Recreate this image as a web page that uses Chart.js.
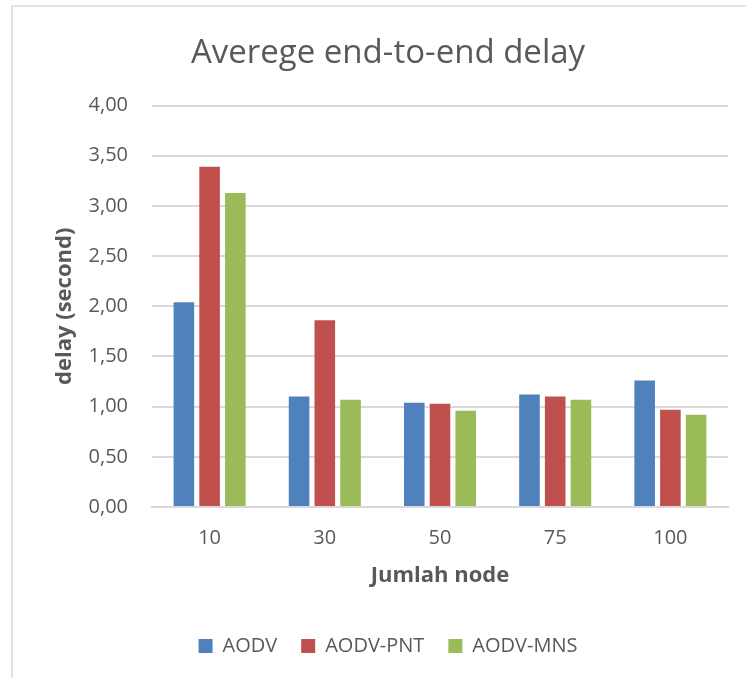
<!DOCTYPE html>
<html>
<head>
<meta charset="utf-8">
<script src="https://cdn.jsdelivr.net/npm/chart.js@4"></script>
<style>
  body { margin: 0; background: #fff; }
  #wrap { position: relative; width: 746px; height: 678px; overflow: hidden; }
  #frame { position: absolute; left: 11px; top: 5px; width: 760px; height: 700px; border: 2px solid #e3e3e3; box-sizing: border-box; }
  #myChart { position: absolute; left: 0; top: 0; }
</style>
</head>
<body>
<div id="wrap">
  <div id="frame"></div>
  <canvas id="myChart" width="746" height="678"></canvas>
</div>
<script>
// DATA
const categories = ['10', '30', '50', '75', '100'];
const aodv = [2.04, 1.10, 1.04, 1.12, 1.26];
const aodvPnt = [3.39, 1.86, 1.03, 1.10, 0.97];
const aodvMns = [3.13, 1.07, 0.96, 1.07, 0.92];

const textColor = '#595959';
const fontFam = "'Open Sans', 'Liberation Sans', sans-serif";

Chart.defaults.font.family = fontFam;
Chart.defaults.color = textColor;

const data = {
  labels: categories,
  datasets: [
    { label: 'AODV', data: aodv, backgroundColor: '#4F81BD' },
    { label: 'AODV-PNT', data: aodvPnt, backgroundColor: '#C0504D' },
    { label: 'AODV-MNS', data: aodvMns, backgroundColor: '#9BBB59' }
  ]
};

const config = {
  type: 'bar',
  data,
  options: {
    responsive: false,
    animation: false,
    categoryPercentage: 0.67,
    barPercentage: 0.8,
    layout: { padding: { top: 20, left: 48, right: 18, bottom: 12 } },
    plugins: {
      title: {
        display: true,
        text: 'Averege end-to-end delay',
        color: textColor,
        font: { size: 33, weight: 'normal' },
        padding: { top: 14, bottom: 32 }
      },
      legend: {
        position: 'bottom',
        labels: {
          boxWidth: 14,
          boxHeight: 14,
          padding: 24,
          color: textColor,
          font: { size: 20 }
        }
      },
      tooltip: { enabled: false }
    },
    scales: {
      x: {
        // fixed height so the labels and the title sit where they should
        afterFit: scale => { scale.height = 105; },
        grid: { display: false, drawTicks: false },
        border: { color: '#d9d9d9', width: 2 },
        ticks: { padding: 19, font: { size: 20 }, color: textColor },
        title: {
          display: true,
          text: 'Jumlah node',
          color: textColor,
          font: { size: 22, weight: 'bold' },
          padding: { top: 0, bottom: 23 }
        }
      },
      y: {
        min: 0,
        max: 4,
        afterFit: scale => { scale.width = 104; },
        grid: { color: '#d9d9d9', lineWidth: 2, drawTicks: false },
        border: { display: false },
        ticks: {
          stepSize: 0.5,
          padding: 24,
          font: { size: 20 },
          color: textColor,
          callback: v => v.toFixed(2).replace('.', ',')
        },
        title: {
          display: true,
          text: 'delay (second)',
          color: textColor,
          font: { size: 22, weight: 'bold' },
          padding: { top: 4, bottom: 4 }
        }
      }
    }
  }
};

new Chart(document.getElementById('myChart'), config);
</script>
</body>
</html>
